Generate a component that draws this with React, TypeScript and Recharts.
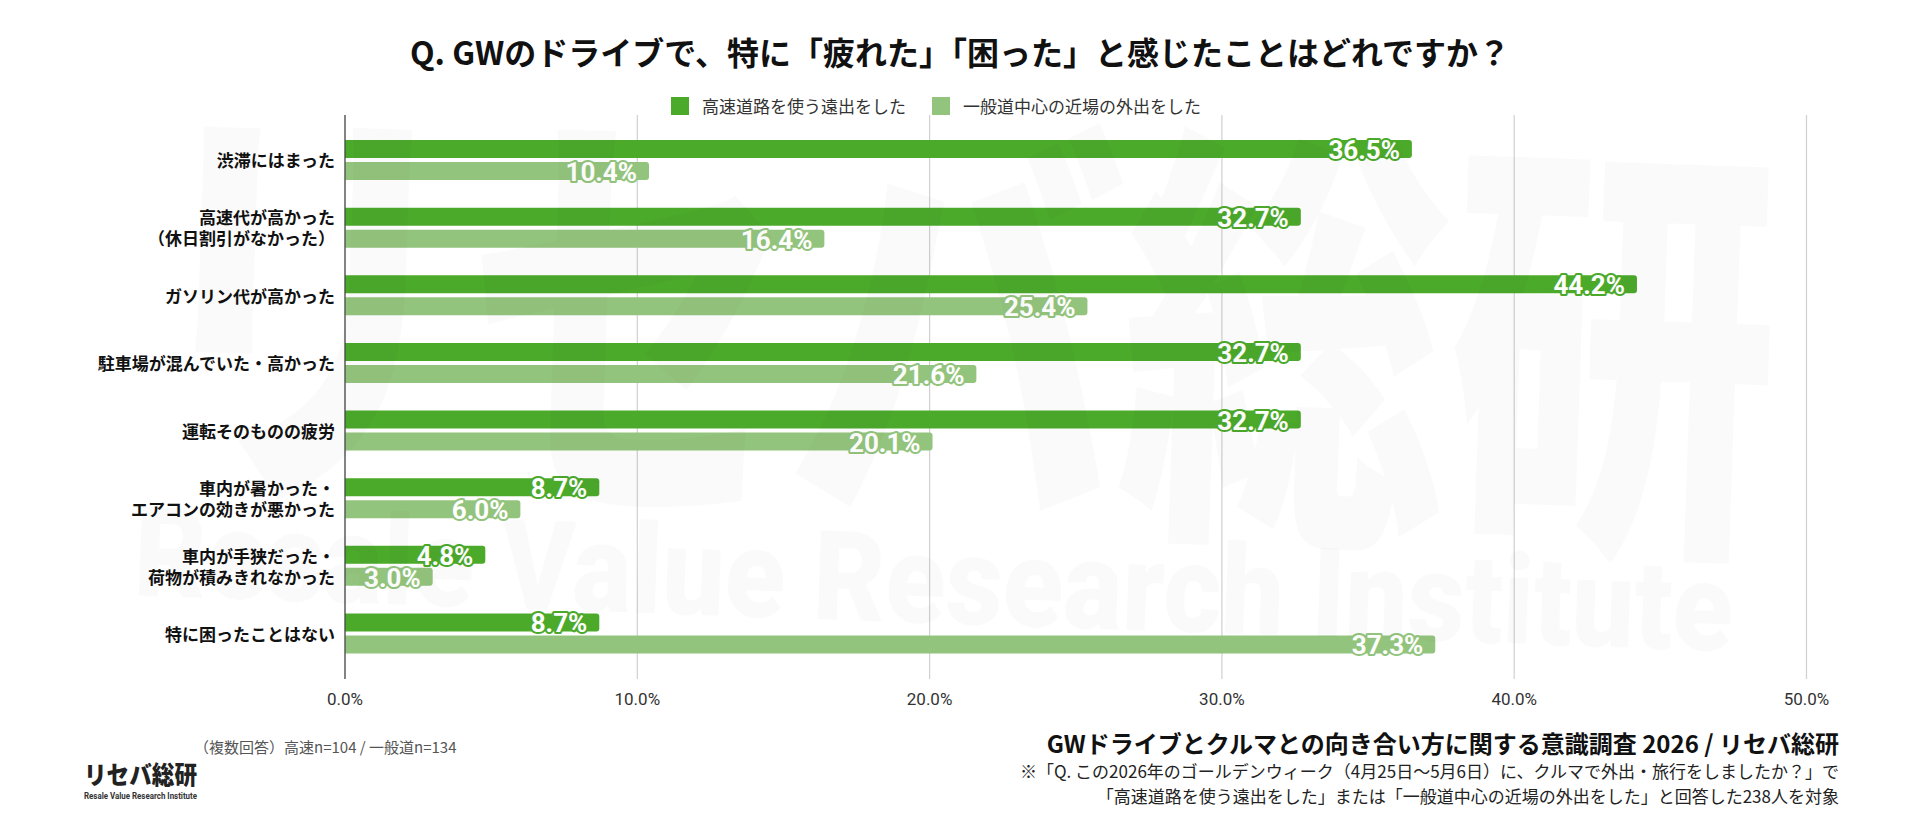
import React from 'react';
import { BarChart, Bar, XAxis, YAxis, CartesianGrid, LabelList } from 'recharts';

// survey answers (percent of respondents)
const categories = [
  '渋滞にはまった',
  '高速代が高かった\n（休日割引がなかった）',
  'ガソリン代が高かった',
  '駐車場が混んでいた・高かった',
  '運転そのものの疲労',
  '車内が暑かった・\nエアコンの効きが悪かった',
  '車内が手狭だった・\n荷物が積みきれなかった',
  '特に困ったことはない',
];
const highwayValues = [36.5, 32.7, 44.2, 32.7, 32.7, 8.7, 4.8, 8.7];
const localValues = [10.4, 16.4, 25.4, 21.6, 20.1, 6.0, 3.0, 37.3];
const xTicks = [0, 10, 20, 30, 40, 50];

const seriesNames = ['高速道路を使う遠出をした', '一般道中心の近場の外出をした'];
const DARK_GREEN = '#4caa2b';
const LIGHT_GREEN = '#93c47d';

const JP = "'Noto Sans CJK JP', 'Noto Sans', sans-serif";
const NUM = "Roboto, 'Noto Sans CJK JP', sans-serif";

const chartData = categories.map((name, i) => ({
  name,
  highway: highwayValues[i],
  local: localValues[i],
}));

const CategoryTick = ({ x, y, payload }: any) => {
  const lines = String(payload.value).split('\n');
  const lineHeight = 21;
  const start = -((lines.length - 1) * lineHeight) / 2;
  return (
    <g>
      {lines.map((line, i) => (
        <text
          key={i}
          x={x}
          y={y + start + i * lineHeight}
          textAnchor="end"
          dominantBaseline="central"
          fill="#111"
          fontSize={17}
          fontWeight={700}
          fontFamily={JP}
        >
          {line}
        </text>
      ))}
    </g>
  );
};

const makeValueLabel = (strokeColor: string) => (props: any) => {
  const { x, y, width, height, value } = props;
  return (
    <text
      x={x + width - 12}
      y={y + height / 2 + 1}
      textAnchor="end"
      dominantBaseline="central"
      fill="#fff"
      stroke={strokeColor}
      strokeWidth={4}
      strokeLinejoin="round"
      paintOrder="stroke"
      fontSize={26}
      fontWeight={700}
      fontFamily={NUM}
    >
      {`${Number(value).toFixed(1)}%`}
    </text>
  );
};

export default function App() {
  return (
    <div
      style={{
        position: 'absolute',
        left: 0,
        top: 0,
        width: 1920,
        height: 817,
        background: '#fff',
        overflow: 'hidden',
        fontFamily: JP,
      }}
    >
      {/* title */}
      <div
        style={{
          position: 'absolute',
          top: 35,
          left: 0,
          width: 1920,
          textAlign: 'center',
          fontSize: 32,
          fontWeight: 700,
          lineHeight: '32px',
          color: '#111',
        }}
      >
        Q. GWのドライブで、特に「疲れた」「困った」と感じたことはどれですか？
      </div>

      {/* legend */}
      <div
        style={{
          position: 'absolute',
          top: 96,
          left: 671,
          display: 'flex',
          alignItems: 'center',
          fontSize: 17,
          lineHeight: '20px',
          color: '#333',
        }}
      >
        {seriesNames.map((name, i) => (
          <div key={name} style={{ display: 'flex', alignItems: 'center', marginRight: 26 }}>
            <span
              style={{
                display: 'inline-block',
                width: 18,
                height: 18,
                background: i === 0 ? DARK_GREEN : LIGHT_GREEN,
                marginRight: 13,
              }}
            />
            <span>{name}</span>
          </div>
        ))}
      </div>

      <div style={{ position: 'absolute', left: 0, top: 0 }}>
        <BarChart
          width={1920}
          height={817}
          data={chartData}
          layout="vertical"
          margin={{ top: 115, right: 113.5, bottom: 108, left: 0 }}
          barSize={18}
          barGap={4}
        >
          <CartesianGrid horizontal={false} vertical stroke="#d0d0d0" strokeWidth={1.2} />
          <XAxis
            type="number"
            domain={[0, 50]}
            ticks={xTicks}
            height={30}
            axisLine={false}
            tickLine={false}
            tickSize={0}
            tickMargin={14}
            tickFormatter={(v: number) => `${v.toFixed(1)}%`}
            tick={{ fill: '#333', fontSize: 17, fontFamily: NUM }}
          />
          <YAxis
            type="category"
            dataKey="name"
            width={345}
            padding={{ top: 11, bottom: 12 }}
            axisLine={{ stroke: '#444', strokeWidth: 1.2 }}
            tickLine={false}
            tickSize={0}
            tickMargin={10}
            interval={0}
            tick={<CategoryTick />}
          />
          <Bar dataKey="highway" fill={DARK_GREEN} radius={[0, 3, 3, 0]} isAnimationActive={false}>
            <LabelList dataKey="highway" content={makeValueLabel(DARK_GREEN)} />
          </Bar>
          <Bar dataKey="local" fill={LIGHT_GREEN} radius={[0, 3, 3, 0]} isAnimationActive={false}>
            <LabelList dataKey="local" content={makeValueLabel(LIGHT_GREEN)} />
          </Bar>
        </BarChart>
      </div>

      {/* faint watermark */}
      <svg
        width={1920}
        height={817}
        style={{ position: 'absolute', left: 0, top: 0, pointerEvents: 'none' }}
      >
        <g transform="rotate(2 960 400)" fill="#000" fillOpacity={0.018} fontWeight={900}>
          <text x={135} y={495} fontSize={440} fontFamily={JP} textLength={1640} lengthAdjust="spacingAndGlyphs">
            リセバ総研
          </text>
          <text x={140} y={624} fontSize={125} fontFamily={NUM} textLength={1600} lengthAdjust="spacingAndGlyphs">
            Resale Value Research Institute
          </text>
        </g>
      </svg>

      {/* footer left */}
      <div
        style={{
          position: 'absolute',
          left: 194,
          top: 737,
          fontSize: 15,
          lineHeight: '20px',
          color: '#555',
        }}
      >
        （複数回答）高速n=104 / 一般道n=134
      </div>
      <svg width={130} height={50} style={{ position: 'absolute', left: 80, top: 757 }}>
        <text
          x={4}
          y={27}
          fontSize={25}
          fontWeight={900}
          fontFamily={JP}
          fill="#222"
          textLength={113}
          lengthAdjust="spacingAndGlyphs"
        >
          リセバ総研
        </text>
        <text
          x={4}
          y={42}
          fontSize={9}
          fontWeight={700}
          fontFamily={NUM}
          fill="#333"
          textLength={113}
          lengthAdjust="spacingAndGlyphs"
        >
          Resale Value Research Institute
        </text>
      </svg>

      {/* footer right */}
      <div
        style={{
          position: 'absolute',
          right: 81,
          top: 728,
          textAlign: 'right',
          color: '#111',
        }}
      >
        <div style={{ fontSize: 24, fontWeight: 700, lineHeight: '30px' }}>
          GWドライブとクルマとの向き合い方に関する意識調査 2026 / リセバ総研
        </div>
        <div style={{ fontSize: 17, lineHeight: '25px', color: '#222' }}>
          ※「Q. この2026年のゴールデンウィーク（4月25日〜5月6日）に、クルマで外出・旅行をしましたか？」で
        </div>
        <div style={{ fontSize: 17, lineHeight: '25px', color: '#222' }}>
          「高速道路を使う遠出をした」または「一般道中心の近場の外出をした」と回答した238人を対象
        </div>
      </div>
    </div>
  );
}
